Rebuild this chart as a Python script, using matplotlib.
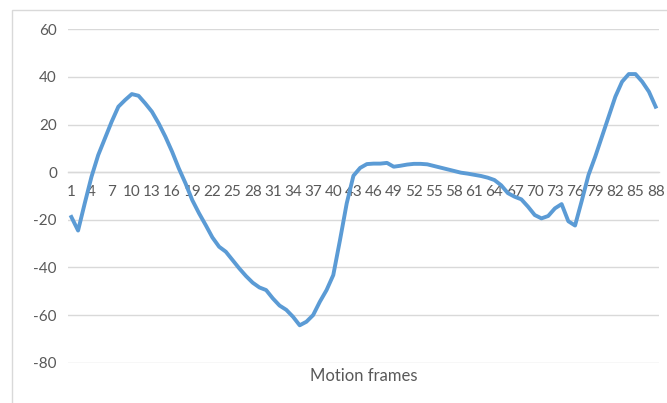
import matplotlib
matplotlib.use("Agg")
import matplotlib.pyplot as plt
from matplotlib.patches import Rectangle

frames = list(range(1, 89))
values = [
    -18.8, -24.5, -13.0, -1.9, 7.2, 14.2, 21.2, 27.5, 30.3, 32.8,
    32.1, 28.9, 25.4, 20.5, 14.9, 8.6, 1.6, -4.7, -11.7, -17.2,
    -22.2, -27.4, -31.3, -33.4, -36.9, -40.4, -43.6, -46.4, -48.4, -49.5,
    -53.0, -56.0, -57.8, -60.7, -64.3, -62.8, -60.0, -54.4, -49.5, -43.2,
    -28.5, -13.1, -1.5, 1.8, 3.4, 3.6, 3.6, 3.9, 2.3, 2.7,
    3.2, 3.5, 3.5, 3.3, 2.6, 1.9, 1.2, 0.5, -0.2, -0.6,
    -1.1, -1.6, -2.3, -3.3, -5.5, -8.8, -10.3, -11.4, -14.5, -18.0,
    -19.4, -18.4, -15.2, -13.4, -20.6, -22.4, -12.0, -1.2, 6.5, 14.9,
    23.3, 31.7, 38.0, 41.2, 41.2, 38.0, 33.8, 27.5,
]
tick_labels = [str(f) for f in frames[::3]]
y_ticks = [-80, -60, -40, -20, 0, 20, 40, 60]
x_title = "Motion frames"

plt.rcParams['font.family'] = ['Lato', 'DejaVu Sans']

fig = plt.figure(figsize=(6.67, 4.03), dpi=100)
ax = fig.add_axes([68/667, 1 - 362.7/403, 591/667, (362.7 - 29.3)/403])

grid_c = '#D9D9D9'
text_c = '#595959'

ax.plot(frames, values, color='#5B9BD5', linewidth=2.8, solid_joinstyle='round', zorder=3)

ax.set_xlim(0.5, 88.5)
ax.set_ylim(-80, 60)
ax.set_yticks(y_ticks)
ax.set_yticklabels([str(v) for v in y_ticks])
ax.set_xticks(frames[::3])
ax.set_xticklabels(tick_labels)

ax.grid(axis='y', color=grid_c, linewidth=1.0, zorder=0)
ax.grid(axis='x', visible=False)
for s in ['left', 'right', 'top']:
    ax.spines[s].set_visible(False)
ax.spines['bottom'].set_position(('data', 0))
ax.spines['bottom'].set_color(grid_c)
ax.spines['bottom'].set_linewidth(1.0)
ax.spines['bottom'].set_zorder(1)

ax.tick_params(axis='y', length=0, pad=8, labelsize=11, labelcolor=text_c)
ax.tick_params(axis='x', length=0, pad=9, labelsize=11, labelcolor=text_c)

fig.text(363.5/667, 1 - 376/403, x_title, ha='center', va='center',
         fontsize=12, color=text_c)

fig.patches.append(Rectangle((12/667, -0.1), 1.2, (403 - 10)/403 + 0.1,
                             transform=fig.transFigure, fill=False,
                             edgecolor=grid_c, linewidth=1.0))

fig.savefig('out.png', dpi=100)
